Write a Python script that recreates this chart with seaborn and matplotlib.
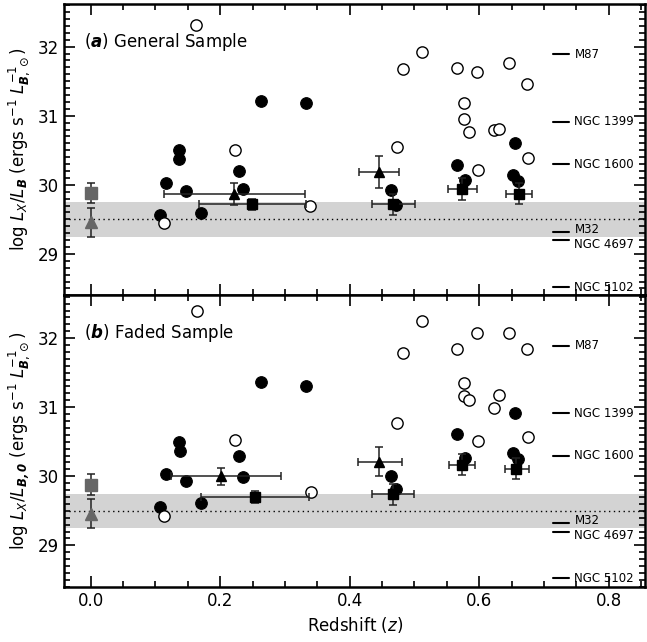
import numpy as np
import pandas as pd
import matplotlib
matplotlib.use('Agg')
import matplotlib.pyplot as plt
from matplotlib.ticker import MultipleLocator
import seaborn as sns

# valores (painel a = amostra geral, painel b = amostra "faded")
z_fill_a = [0.107, 0.116, 0.137, 0.137, 0.147, 0.170, 0.229, 0.235, 0.263, 0.332,
            0.463, 0.472, 0.566, 0.578, 0.652, 0.655, 0.660]
y_fill_a = [29.56, 30.03, 30.51, 30.38, 29.91, 29.59, 30.20, 29.94, 31.22, 31.19,
            29.93, 29.71, 30.28, 30.07, 30.14, 30.60, 30.05]
z_open_a = [0.114, 0.163, 0.223, 0.339, 0.473, 0.482, 0.511, 0.566, 0.576, 0.576,
            0.584, 0.596, 0.598, 0.623, 0.630, 0.646, 0.674, 0.676]
y_open_a = [29.44, 32.31, 30.51, 29.69, 30.55, 31.68, 31.92, 31.69, 31.18, 30.96,
            30.76, 31.64, 30.21, 30.80, 30.81, 31.76, 31.46, 30.39]

z_fill_b = [0.107, 0.116, 0.137, 0.138, 0.147, 0.170, 0.229, 0.235, 0.263, 0.332,
            0.463, 0.472, 0.566, 0.578, 0.652, 0.655, 0.660]
y_fill_b = [29.55, 30.03, 30.49, 30.36, 29.93, 29.62, 30.29, 29.99, 31.37, 31.30,
            30.00, 29.81, 30.61, 30.27, 30.33, 30.92, 30.25]
z_open_b = [0.114, 0.164, 0.223, 0.340, 0.473, 0.482, 0.511, 0.566, 0.576, 0.576,
            0.584, 0.596, 0.598, 0.623, 0.630, 0.646, 0.674, 0.676]
y_open_b = [29.42, 32.40, 30.53, 29.77, 30.77, 31.78, 32.25, 31.85, 31.35, 31.16,
            31.10, 32.07, 30.51, 30.99, 31.18, 32.07, 31.84, 30.57]

# medias por bin (triangulos e quadrados) com faixa de z
tri_z_a = [0.222, 0.445]
tri_lo_a = [0.114, 0.414]
tri_hi_a = [0.331, 0.476]
tri_y_a = [29.87, 30.19]
tri_err_a = [0.16, 0.23]

sq_z_a = [0.249, 0.467, 0.573, 0.661]
sq_lo_a = [0.167, 0.434, 0.552, 0.641]
sq_hi_a = [0.332, 0.501, 0.596, 0.681]
sq_y_a = [29.72, 29.72, 29.94, 29.87]
sq_err_a = [0.08, 0.15, 0.16, 0.15]

tri_z_b = [0.202, 0.446]
tri_lo_b = [0.124, 0.413]
tri_hi_b = [0.294, 0.481]
tri_y_b = [30.00, 30.21]
tri_err_b = [0.12, 0.21]

sq_z_b = [0.254, 0.467, 0.573, 0.656]
sq_lo_b = [0.171, 0.435, 0.554, 0.639]
sq_hi_b = [0.337, 0.499, 0.593, 0.677]
sq_y_b = [29.70, 29.74, 30.17, 30.11]
sq_err_b = [0.08, 0.15, 0.15, 0.15]

# amostra local (z = 0)
local_sq_y = 29.88
local_sq_err = 0.15
local_tri_y = 29.46
local_tri_err = 0.21

# galaxias de referencia
gal_names = ['M87', 'NGC 1399', 'NGC 1600', 'M32', 'NGC 4697', 'NGC 5102']
gal_vals = [31.89, 30.91, 30.30, 29.32, 29.20, 28.52]

panels = [
    ('a', 'General Sample',
     r'log $L_X/L_\mathbfit{B}$ (ergs s$^{-1}$ $L_{\mathbfit{B},\odot}^{-1}$)',
     z_fill_a, y_fill_a, z_open_a, y_open_a,
     (tri_z_a, tri_lo_a, tri_hi_a, tri_y_a, tri_err_a),
     (sq_z_a, sq_lo_a, sq_hi_a, sq_y_a, sq_err_a)),
    ('b', 'Faded Sample',
     r'log $L_X/L_{\mathbfit{B,0}}$ (ergs s$^{-1}$ $L_{\mathbfit{B},\odot}^{-1}$)',
     z_fill_b, y_fill_b, z_open_b, y_open_b,
     (tri_z_b, tri_lo_b, tri_hi_b, tri_y_b, tri_err_b),
     (sq_z_b, sq_lo_b, sq_hi_b, sq_y_b, sq_err_b)),
]

sns.set_style('ticks')
plt.rcParams['font.family'] = ['DejaVu Sans']
plt.rcParams['font.size'] = 12
plt.rcParams['text.color'] = 'k'
plt.rcParams['axes.labelcolor'] = 'k'

fig, axes = plt.subplots(2, 1, figsize=(6.47, 6.42), dpi=100, sharex=True)
fig.subplots_adjust(left=0.099, right=0.997, top=0.994, bottom=0.086, hspace=0)

for ax, (let, name, ylab, zf, yf, zo, yo, tri, sq) in zip(axes, panels):
    ax.axhspan(29.25, 29.75, color='#d3d3d3', lw=0, zorder=0)
    ax.axhline(29.5, color='k', ls=(0, (1, 2.5)), lw=1, zorder=1)

    dfill = pd.DataFrame({'z': zf, 'y': yf})
    dopen = pd.DataFrame({'z': zo, 'y': yo})
    sns.scatterplot(data=dfill, x='z', y='y', ax=ax, color='k', s=70,
                    edgecolor='k', linewidth=0.8, zorder=4)
    sns.scatterplot(data=dopen, x='z', y='y', ax=ax, facecolor='white', s=66,
                    edgecolor='k', linewidth=1.0, zorder=4)

    for (zz, lo, hi, yy, ee), mk, ms in [(tri, '^', 7), (sq, 's', 7.5)]:
        zz = np.array(zz)
        xerr = [zz - np.array(lo), np.array(hi) - zz]
        ax.errorbar(zz, yy, xerr=xerr, yerr=ee, fmt=mk, color='k', ms=ms,
                    ecolor='#222222', elinewidth=1.1, capsize=3, capthick=1.1, zorder=5)

    ax.errorbar([0.0], [local_sq_y], yerr=local_sq_err, fmt='s', color='#666666',
                ms=8, ecolor='#222222', elinewidth=1.1, capsize=3, capthick=1.1, zorder=5)
    ax.errorbar([0.0], [local_tri_y], yerr=local_tri_err, fmt='^', color='#666666',
                ms=8, ecolor='#222222', elinewidth=1.1, capsize=3, capthick=1.1, zorder=5)

    for gname, gv in zip(gal_names, gal_vals):
        ax.plot([0.714, 0.739], [gv, gv], color='k', lw=1.5)
        dy = 0
        if gname == 'M32':
            dy = 0.04
        if gname == 'NGC 4697':
            dy = -0.06
        ax.text(0.747, gv + dy, gname, fontsize=8.5, va='center', ha='left')

    ax.text(-0.01, 32.07, r'$(\mathbfit{' + let + r'})$ ' + name, fontsize=12,
            va='center', ha='left')

    ax.set_xlim(-0.041, 0.856)
    ax.set_ylim(28.4, 32.62)
    ax.set_yticks([29, 30, 31, 32])
    ax.yaxis.set_minor_locator(MultipleLocator(0.1))
    ax.set_xticks([0.0, 0.2, 0.4, 0.6, 0.8])
    ax.xaxis.set_minor_locator(MultipleLocator(0.05))
    ax.tick_params(which='both', direction='in', top=True, right=True, width=1.2,
                   color='k', labelcolor='k')
    ax.tick_params(which='major', length=8, labelsize=12)
    ax.tick_params(which='minor', length=4)
    for sp in ax.spines.values():
        sp.set_linewidth(1.8)
        sp.set_color('k')
    ax.set_ylabel(ylab, fontsize=12)
    ax.set_xlabel('')

axes[1].set_xlabel(r'Redshift ($z$)', fontsize=12)
axes[1].set_xticklabels(['0.0', '0.2', '0.4', '0.6', '0.8'])

fig.savefig('out.png', dpi=100)
